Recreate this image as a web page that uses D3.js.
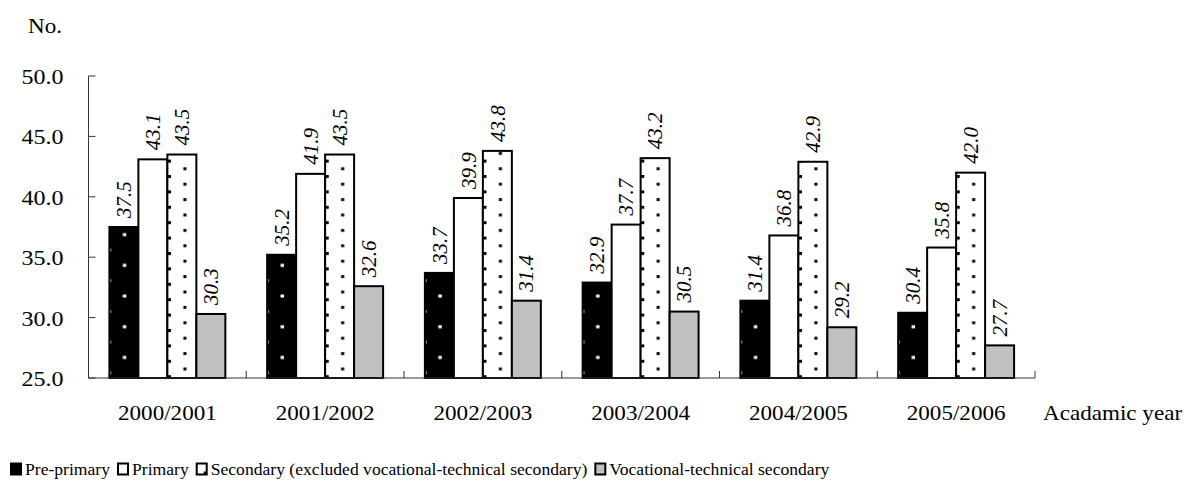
<!DOCTYPE html>
<html>
<head>
<meta charset="utf-8">
<script src="https://cdn.jsdelivr.net/npm/d3@7/dist/d3.min.js"></script>
<style>
  html, body { margin: 0; padding: 0; background: #ffffff; }
  svg { display: block; }
</style>
</head>
<body>
<svg id="chart" width="1187" height="481"></svg>
<script>
// ---- data ----
const categories = ["2000/2001", "2001/2002", "2002/2003", "2003/2004", "2004/2005", "2005/2006"];
const seriesNames = ["Pre-primary", "Primary", "Secondary (excluded vocational-technical secondary)", "Vocational-technical secondary"];
const prePrimary = [37.5, 35.2, 33.7, 32.9, 31.4, 30.4];
const primary = [43.1, 41.9, 39.9, 37.7, 36.8, 35.8];
const secondary = [43.5, 43.5, 43.8, 43.2, 42.9, 42.0];
const vocational = [30.3, 32.6, 31.4, 30.5, 29.2, 27.7];
const yTicks = [25, 30, 35, 40, 45, 50];
const yUnit = "No.";
const xTitle = "Acadamic year";

const seriesValues = [prePrimary, primary, secondary, vocational];
const seriesKeys = ["pre", "pri", "sec", "voc"];
const FONT = "Liberation Serif";

const svg = d3.select("#chart");

// ---- patterns ----
const defs = svg.append("defs");
const pPre = defs.append("pattern").attr("id", "pat-pre")
  .attr("patternUnits", "userSpaceOnUse")
  .attr("x", 121.2).attr("y", 279.2)
  .attr("width", 30.8).attr("height", 30.7);
pPre.append("rect").attr("width", 30.8).attr("height", 30.7).attr("fill", "#000");
pPre.append("rect").attr("x", 0).attr("y", 0).attr("width", 3.5).attr("height", 3).attr("fill", "#fff");
pPre.append("rect").attr("x", 15.4).attr("y", 15.35).attr("width", 3.5).attr("height", 3).attr("fill", "#fff");

const pSec = defs.append("pattern").attr("id", "pat-sec")
  .attr("patternUnits", "userSpaceOnUse")
  .attr("x", 181.8).attr("y", 205.8)
  .attr("width", 30.8).attr("height", 15.4);
pSec.append("rect").attr("width", 30.8).attr("height", 15.4).attr("fill", "#fff");
pSec.append("rect").attr("x", 0).attr("y", 0).attr("width", 3).attr("height", 3).attr("fill", "#000");
pSec.append("rect").attr("x", 15.4).attr("y", 7.7).attr("width", 3).attr("height", 3).attr("fill", "#000");

const fills = { pre: "url(#pat-pre)", pri: "#ffffff", sec: "url(#pat-sec)", voc: "#c0c0c0" };

// ---- scales ----
const plotLeft = 88.5, plotRight = 1035, plotTop = 76, plotBottom = 378;
const x0 = d3.scaleBand().domain(categories).range([plotLeft, plotRight])
  .paddingInner(0.265).paddingOuter(0.1325);
const x1 = d3.scaleBand().domain(seriesKeys).range([0, x0.bandwidth()]).padding(0);
const y = d3.scaleLinear().domain([25, 50]).range([plotBottom, plotTop]);

// helper for horizontally stretched text
function hText(parent, x, yy, str, size, sx, anchor) {
  const g = parent.append("g").attr("transform", `translate(${x},${yy}) scale(${sx},1)`);
  return g.append("text").attr("x", 0).attr("y", 0)
    .style("font-family", FONT).attr("fill", "#000")
    .attr("font-size", size).attr("text-anchor", anchor || "start").text(str);
}

// ---- bars ----
const groups = svg.append("g").selectAll("g.grp")
  .data(categories).join("g")
  .attr("class", "grp")
  .attr("transform", d => `translate(${x0(d)},0)`);

groups.each(function(cat, ci) {
  const g = d3.select(this);
  seriesKeys.forEach((k, si) => {
    const v = seriesValues[si][ci];
    g.append("rect")
      .attr("x", x1(k))
      .attr("y", y(v))
      .attr("width", x1.bandwidth())
      .attr("height", y(25) - y(v))
      .attr("fill", fills[k])
      .attr("stroke", "#000")
      .attr("stroke-width", 2);
  });
});

// data labels
groups.each(function(cat, ci) {
  const g = d3.select(this);
  seriesKeys.forEach((k, si) => {
    const v = seriesValues[si][ci];
    const cx = x1(k) + x1.bandwidth() / 2;
    const ty = y(v) - 9;
    g.append("text")
      .attr("transform", `translate(${cx},${ty}) rotate(-90)`)
      .attr("x", 0).attr("y", 0)
      .attr("dy", "0.34em")
      .style("font-family", FONT).attr("fill", "#000")
      .attr("font-size", 21)
      .attr("font-style", "italic")
      .attr("text-anchor", "start")
      .text(d3.format(".1f")(v));
  });
});

// ---- axes ----
const axisColor = "#333";
const yAxisG = svg.append("g").attr("transform", `translate(${plotLeft},0)`);
yAxisG.append("line").attr("x1", 0).attr("x2", 0)
  .attr("y1", y(50)).attr("y2", y(25)).attr("stroke", axisColor).attr("stroke-width", 1);
yTicks.forEach(t => {
  yAxisG.append("line").attr("x1", 0).attr("x2", 7)
    .attr("y1", y(t)).attr("y2", y(t)).attr("stroke", axisColor).attr("stroke-width", 1);
  hText(svg, 63.5, y(t) + 8, d3.format(".1f")(t), 20, 1.2, "end");
});

const xAxisG = svg.append("g");
xAxisG.append("line").attr("x1", plotLeft).attr("x2", plotRight)
  .attr("y1", plotBottom).attr("y2", plotBottom).attr("stroke", axisColor).attr("stroke-width", 1);
const boundaries = categories.map(c => x0(c) - x0.step() * x0.paddingInner() / 2).slice(1).concat([plotRight]);
boundaries.forEach(bx => {
  xAxisG.append("line").attr("x1", bx).attr("x2", bx)
    .attr("y1", plotBottom).attr("y2", plotBottom - 7).attr("stroke", axisColor).attr("stroke-width", 1);
});
categories.forEach(c => {
  hText(svg, x0(c) + x0.bandwidth() / 2, 420, c, 21, 1.1, "middle");
});

// titles
hText(svg, 1043, 420, xTitle, 21, 1.1, "start");
hText(svg, 28, 33, yUnit, 21, 1.1, "start");

// ---- legend ----
const legendSX = 1.0;
let lx = 10;
const ly = 475;
seriesNames.forEach((name, i) => {
  const k = seriesKeys[i];
  svg.append("rect")
    .attr("x", lx + 1).attr("y", ly - 11.5)
    .attr("width", 10).attr("height", 11)
    .attr("fill", k === "sec" ? "#fff" : fills[k])
    .attr("stroke", "#000").attr("stroke-width", 2);
  if (k === "sec") {
    svg.append("rect").attr("x", lx + 8).attr("y", ly - 3.5).attr("width", 3).attr("height", 3).attr("fill", "#000");
  }
  const t = hText(svg, lx + 15, ly, name, 17.6, legendSX, "start");
  const w = t.node().getComputedTextLength() * legendSX;
  lx = lx + 15 + w + 7;
});
</script>
</body>
</html>
